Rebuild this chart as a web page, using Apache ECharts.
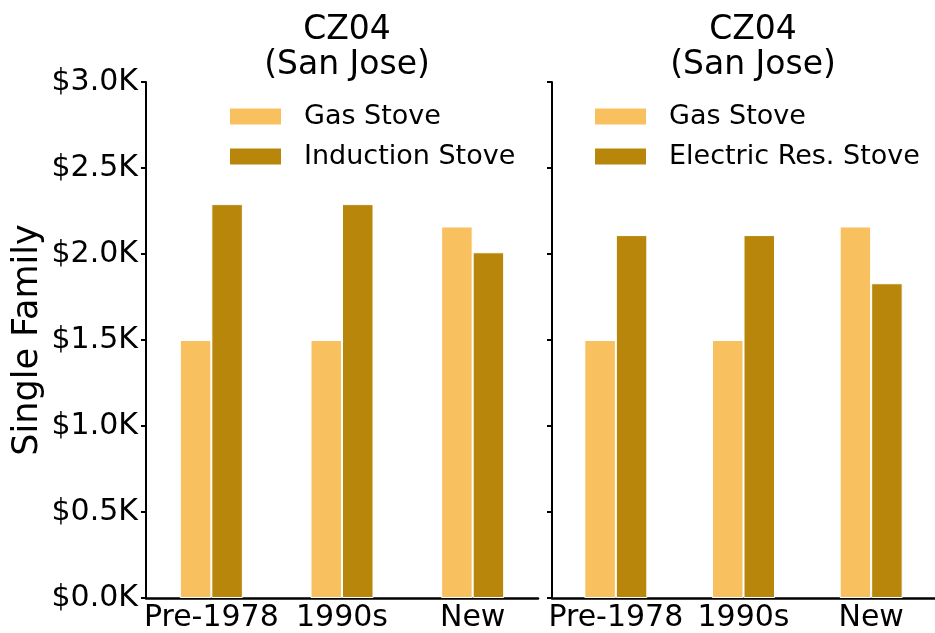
<!DOCTYPE html>
<html>
<head>
<meta charset="utf-8">
<title>CZ04 San Jose</title>
<script src="https://cdn.jsdelivr.net/npm/echarts@6/dist/echarts.min.js"></script>
<style>
html, body { margin: 0; padding: 0; background: #fff; }
#main { width: 935px; height: 633px; }
</style>
</head>
<body>
<div id="main"></div>
<script>
// data ($)
var categories = ['Pre-1978', '1990s', 'New'];
var gasLeft = [1500, 1500, 2160];
var induction = [2290, 2290, 2010];
var gasRight = [1500, 1500, 2160];
var electricRes = [2110, 2110, 1830];
var titleText = 'CZ04\n(San Jose)';

var gasColor = '#F9C060';
var darkColor = '#B8860B';
var font = 'DejaVu Sans';

function money(v) {
	return '$' + (v / 1000).toFixed(1) + 'K';
}

function xAxisFor(idx) {
	return {
		type: 'category',
		gridIndex: idx,
		data: categories,
		axisTick: { show: false },
		axisLine: { lineStyle: { color: '#000', width: 2.5 } },
		axisLabel: { color: '#000', fontSize: 30, fontFamily: font, margin: 5, interval: 0 }
	};
}

function yAxisFor(idx) {
	return {
		type: 'value',
		gridIndex: idx,
		min: 0,
		max: 3000,
		interval: 500,
		splitLine: { show: false },
		axisLine: { show: true, lineStyle: { color: '#000', width: 2 } },
		axisTick: { show: true, length: 5, lineStyle: { color: '#000', width: 2 } },
		axisLabel: {
			show: idx === 0,
			color: '#000',
			fontSize: 30,
			fontFamily: font,
			margin: 8,
			formatter: money
		},
		name: idx === 0 ? 'Single Family' : '',
		nameLocation: 'middle',
		nameGap: 101,
		nameTextStyle: { color: '#000', fontSize: 35, fontFamily: font }
	};
}

function barSeries(name, data, color, idx) {
	return {
		name: name,
		type: 'bar',
		xAxisIndex: idx,
		yAxisIndex: idx,
		data: data,
		barWidth: 31.5,
		barGap: '0%',
		itemStyle: { color: color, borderColor: '#fff', borderWidth: 1 }
	};
}

function legendFor(names, left) {
	return {
		orient: 'vertical',
		left: left,
		top: 103,
		padding: 0,
		itemWidth: 53,
		itemHeight: 18,
		itemGap: 13,
		icon: 'rect',
		selectedMode: false,
		data: names,
		textStyle: { color: '#000', fontSize: 27, fontFamily: font, padding: [0, 0, 0, 17] }
	};
}

var myChart = echarts.init(document.getElementById('main'), null, { renderer: 'canvas' });
myChart.setOption({
	backgroundColor: '#fff',
	animation: false,
	title: [
		{
			text: titleText, left: 342, top: 8, textAlign: 'center',
			textStyle: { color: '#000', fontSize: 33, fontWeight: 'normal', fontFamily: font, lineHeight: 35 }
		},
		{
			text: titleText, left: 748, top: 8, textAlign: 'center',
			textStyle: { color: '#000', fontSize: 33, fontWeight: 'normal', fontFamily: font, lineHeight: 35 }
		}
	],
	legend: [
		legendFor(['Gas Stove', 'Induction Stove'], 228),
		legendFor(['Gas Stove', 'Electric Res. Stove'], 593)
	],
	grid: [
		{ left: 146, top: 82, width: 392, height: 516 },
		{ left: 552, top: 82, width: 392, height: 516 }
	],
	xAxis: [xAxisFor(0), xAxisFor(1)],
	yAxis: [yAxisFor(0), yAxisFor(1)],
	series: [
		barSeries('Gas Stove', gasLeft, gasColor, 0),
		barSeries('Induction Stove', induction, darkColor, 0),
		barSeries('Gas Stove', gasRight, gasColor, 1),
		barSeries('Electric Res. Stove', electricRes, darkColor, 1)
	]
});
</script>
</body>
</html>
